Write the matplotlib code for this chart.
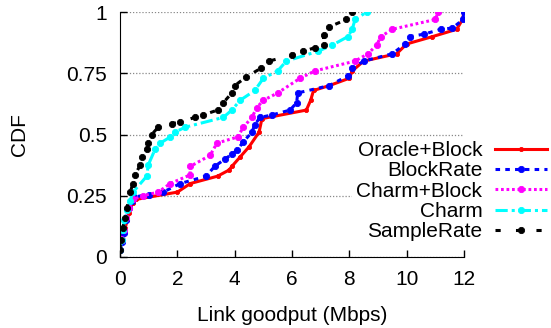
import matplotlib
matplotlib.use('Agg')
import matplotlib.pyplot as plt

plt.rcParams['font.family'] = ['Liberation Sans', 'DejaVu Sans']

# CDF curves (x in Mbps, y = CDF)
oracle_x = [0.0, 0.05, 0.1, 0.18, 0.25, 0.3, 0.35, 0.45, 0.55, 2.0, 2.45, 3.4, 3.8, 3.9,
            4.2, 4.5, 4.85, 4.95, 6.5, 6.65, 6.75, 7.3, 8.0, 8.1, 8.5, 9.65, 10.0, 10.9,
            11.75, 11.95, 12.0]
oracle_y = [0.03, 0.06, 0.09, 0.12, 0.15, 0.18, 0.2, 0.22, 0.235, 0.265, 0.3, 0.33, 0.355,
            0.37, 0.41, 0.45, 0.51, 0.565, 0.6, 0.64, 0.68, 0.7, 0.73, 0.76, 0.8, 0.83,
            0.87, 0.9, 0.93, 0.97, 1.0]

block_x = [0.0, 0.05, 0.12, 0.2, 0.3, 0.4, 0.5, 1.0, 1.5, 2.1, 3.0, 3.3, 3.66, 3.9, 4.07,
           4.3, 4.6, 4.7, 4.88, 5.3, 5.93, 6.16, 6.2, 7.3, 7.95, 8.1, 8.5, 9.5, 9.95,
           10.1, 10.6, 11.2, 11.6, 11.97, 12.0]
block_y = [0.03, 0.06, 0.1, 0.15, 0.2, 0.23, 0.245, 0.255, 0.265, 0.3, 0.33, 0.37, 0.4,
           0.42, 0.435, 0.47, 0.51, 0.54, 0.57, 0.58, 0.6, 0.63, 0.67, 0.7, 0.74, 0.77,
           0.8, 0.83, 0.87, 0.9, 0.91, 0.93, 0.935, 0.97, 1.0]

charmblock_x = [0.0, 0.05, 0.12, 0.2, 0.3, 0.45, 0.8, 1.33, 1.75, 2.44, 2.45, 3.14, 3.38,
                4.1, 4.3, 4.6, 4.77, 5.0, 5.5, 6.28, 6.8, 8.2, 8.65, 8.95, 9.1, 9.5,
                11.0, 11.1]
charmblock_y = [0.03, 0.07, 0.11, 0.16, 0.2, 0.235, 0.25, 0.265, 0.3, 0.335, 0.37, 0.415,
                0.465, 0.49, 0.53, 0.57, 0.61, 0.64, 0.67, 0.73, 0.76, 0.8, 0.83, 0.865,
                0.9, 0.93, 0.97, 1.0]

charm_x = [0.0, 0.05, 0.1, 0.15, 0.25, 0.35, 0.45, 0.93, 0.98, 1.22, 1.4, 1.75, 1.92, 2.27,
           3.6, 3.9, 4.19, 4.7, 5.0, 5.5, 5.8, 6.9, 7.4, 7.95, 8.1, 8.2, 8.6]
charm_y = [0.03, 0.07, 0.11, 0.15, 0.19, 0.23, 0.265, 0.33, 0.375, 0.44, 0.465, 0.49, 0.51,
           0.53, 0.57, 0.6, 0.64, 0.68, 0.73, 0.76, 0.8, 0.84, 0.865, 0.9, 0.93, 0.97, 1.0]

sample_x = [0.0, 0.02, 0.1, 0.17, 0.24, 0.35, 0.45, 0.52, 0.7, 0.77, 0.93, 0.98, 1.1, 1.33,
            1.8, 2.1, 2.6, 2.9, 3.4, 3.6, 3.9, 4.0, 4.4, 4.9, 5.2, 6.0, 6.4, 6.8, 7.1, 7.1,
            7.3, 7.9, 8.1]
sample_y = [0.03, 0.07, 0.12, 0.16, 0.2, 0.265, 0.3, 0.335, 0.375, 0.41, 0.44, 0.465, 0.5,
            0.53, 0.545, 0.55, 0.57, 0.58, 0.6, 0.63, 0.67, 0.7, 0.735, 0.77, 0.8, 0.825,
            0.84, 0.855, 0.865, 0.905, 0.94, 0.97, 1.0]

xticks = [0, 2, 4, 6, 8, 10, 12]
yticks = [0, 0.25, 0.5, 0.75, 1]
ytick_labels = ['0', '0.25', '0.5', '0.75', '1']

fs = 15
fig = plt.figure(figsize=(5.51, 3.28), dpi=100)
ax = fig.add_axes([0.218, 0.2165, 0.624, 0.7465])

lw = 2.2
ax.plot(oracle_x, oracle_y, color='#ff0000', lw=lw, ls='-', marker='o', ms=3, mew=0.6,
        label='Oracle+Block')
ax.plot(block_x, block_y, color='#0000ff', lw=lw, ls=(0, (1.5, 1.7)), marker='o', ms=4.5,
        mew=0.6, label='BlockRate')
ax.plot(charmblock_x, charmblock_y, color='#ff00ff', lw=lw, ls=(0, (0.9, 0.9)), marker='o',
        ms=4.5, mew=0.6, label='Charm+Block')
ax.plot(charm_x, charm_y, color='#00ffff', lw=lw, ls=(0, (4, 1.3, 1, 1.3)), marker='o',
        ms=4.5, mew=0.6, label='Charm')
ax.plot(sample_x, sample_y, color='black', lw=lw, ls=(0, (1.7, 5)), marker='o', ms=4.5,
        mew=0.6, label='SampleRate')

ax.set_xlim(0, 12)
ax.set_ylim(0, 1)
ax.set_xticks(xticks)
ax.set_yticks(yticks)
ax.set_yticklabels(ytick_labels)
ax.tick_params(direction='in', length=5, width=1, labelsize=fs)
ax.tick_params(axis='x', pad=9.5)
ax.tick_params(axis='y', pad=9.5)
ax.spines['top'].set_visible(False)
ax.spines['right'].set_visible(False)
ax.set_axisbelow(True)
ax.yaxis.grid(True, linestyle=(0, (1, 1.5)), color='#888888', linewidth=0.9)

ax.set_xlabel('Link goodput (Mbps)', fontsize=fs, labelpad=12)
ax.set_ylabel('CDF', fontsize=fs, labelpad=27)

leg = fig.legend(loc='upper right', bbox_to_anchor=(1.0, 1 - 137 / 328.0),
                 markerfirst=False, numpoints=1, fontsize=fs, frameon=True,
                 fancybox=False, framealpha=1, edgecolor='none', facecolor='white',
                 borderpad=0.2, borderaxespad=0, handlelength=2.5, handletextpad=0.6,
                 labelspacing=0.06)
for t in leg.get_texts():
    t.set_ha('right')
leg._legend_box.align = 'right'

fig.savefig('out.png', dpi=100)
